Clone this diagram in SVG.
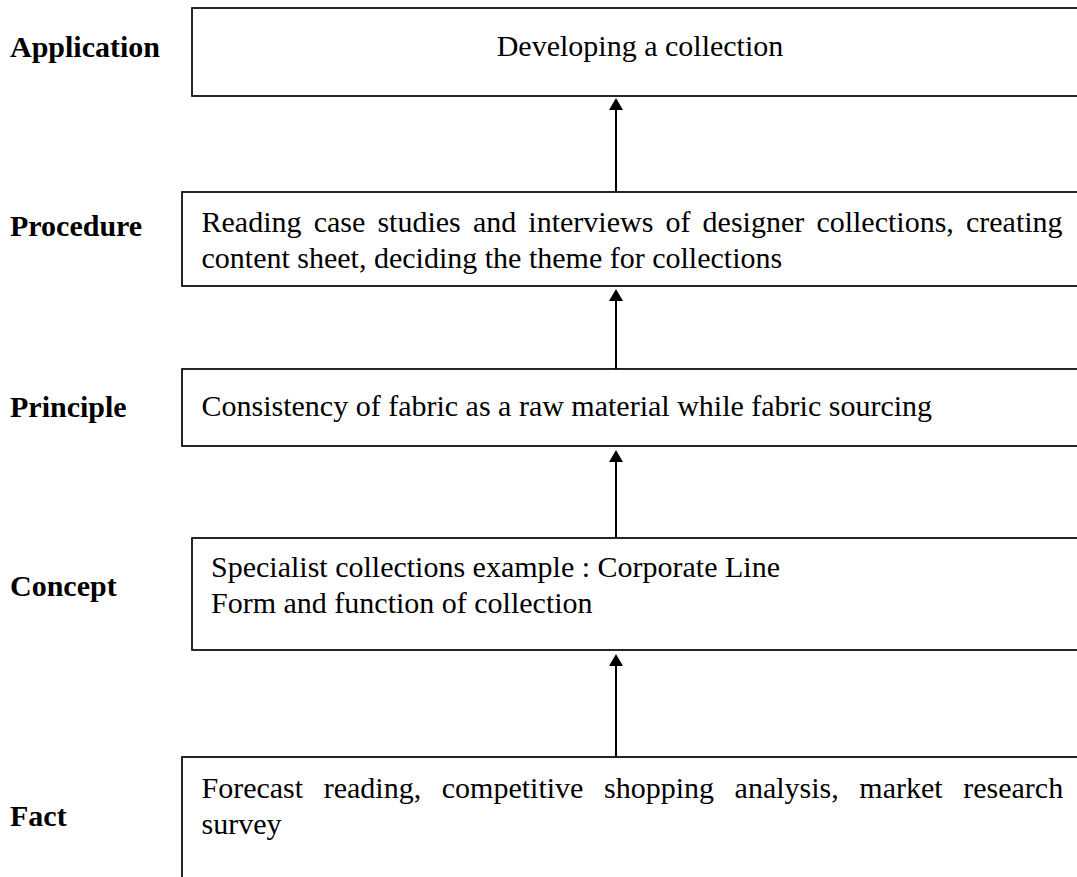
<svg xmlns="http://www.w3.org/2000/svg" width="1077" height="877" viewBox="0 0 1077 877">
  <style>
    .box { fill: #ffffff; stroke: #000000; stroke-width: 1.7; }
    .label { font-family: "Liberation Serif", "Times New Roman", serif; font-size: 30px; font-weight: bold; fill: #000000; }
    .txt { font-family: "Liberation Serif", "Times New Roman", serif; font-size: 30px; fill: #000000; }
    .conn { stroke: #000000; stroke-width: 2; fill: none; marker-end: url(#head); }
  </style>
  <defs>
    <marker id="head" viewBox="0 0 12 14" refX="0" refY="7" markerWidth="12" markerHeight="14" markerUnits="userSpaceOnUse" orient="auto">
      <path d="M0,0 L12,7 L0,14 Z" fill="#000000"/>
    </marker>
  </defs>
  <rect width="1077" height="877" fill="#ffffff"/>

  <!-- level: Application -->
  <g id="application">
    <text class="label" x="10" y="57">Application</text>
    <rect class="box" x="192" y="8" width="900" height="88"/>
    <text class="txt" x="640" y="56" text-anchor="middle">Developing a collection</text>
  </g>

  <!-- level: Procedure -->
  <g id="procedure">
    <text class="label" x="10" y="236">Procedure</text>
    <rect class="box" x="182" y="192" width="910" height="94"/>
    <text class="txt" x="201.5" y="231.5" word-spacing="4.65">Reading case studies and interviews of designer collections, creating</text>
    <text class="txt" x="201.5" y="267.5">content sheet, deciding the theme for collections</text>
  </g>

  <!-- level: Principle -->
  <g id="principle">
    <text class="label" x="10" y="417">Principle</text>
    <rect class="box" x="182" y="369" width="910" height="77"/>
    <text class="txt" x="201.5" y="416">Consistency of fabric as a raw material while fabric sourcing</text>
  </g>

  <!-- level: Concept -->
  <g id="concept">
    <text class="label" x="10" y="596">Concept</text>
    <rect class="box" x="192" y="538" width="900" height="112"/>
    <text class="txt" x="211" y="577">Specialist collections example : Corporate Line</text>
    <text class="txt" x="211" y="613">Form and function of collection</text>
  </g>

  <!-- level: Fact -->
  <g id="fact">
    <text class="label" x="10" y="826">Fact</text>
    <rect class="box" x="182" y="757" width="910" height="140"/>
    <text class="txt" x="201.5" y="797.5" word-spacing="13.1">Forecast reading, competitive shopping analysis, market research</text>
    <text class="txt" x="201.5" y="833.5">survey</text>
  </g>

  <!-- upward arrows between levels -->
  <g id="connectors">
    <line class="conn" x1="616" y1="192" x2="616" y2="110"/>
    <line class="conn" x1="616" y1="369" x2="616" y2="301"/>
    <line class="conn" x1="616" y1="538" x2="616" y2="462"/>
    <line class="conn" x1="616" y1="757" x2="616" y2="666"/>
  </g>
</svg>
